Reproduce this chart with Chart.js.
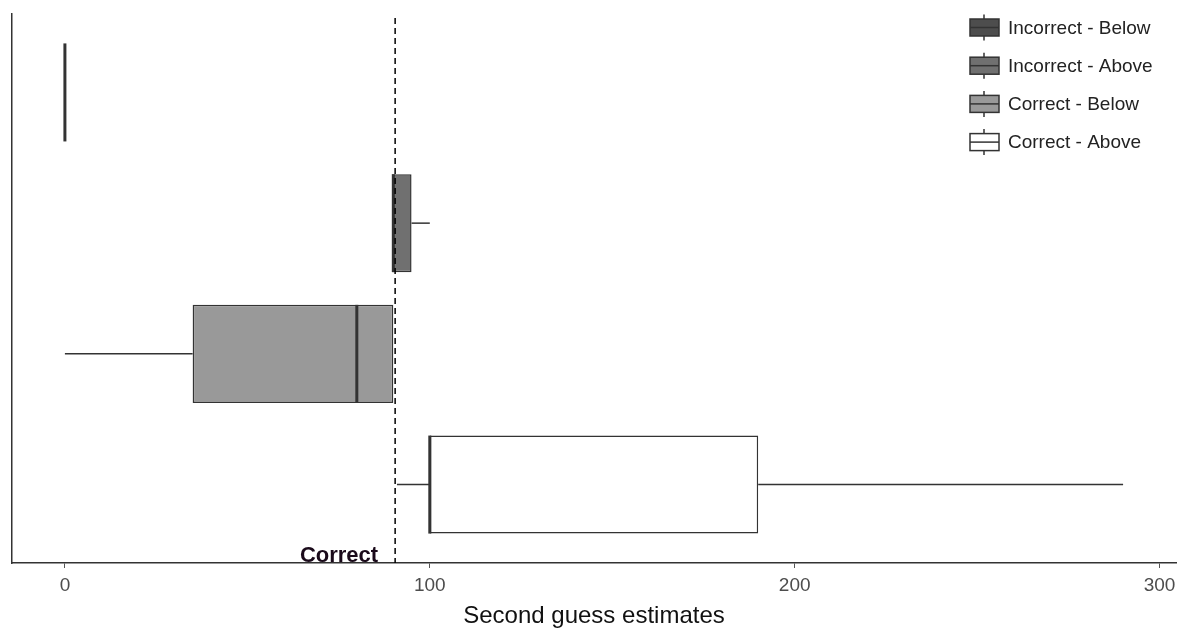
<!DOCTYPE html>
<html>
<head>
<meta charset="utf-8">
<script src="https://cdn.jsdelivr.net/npm/chart.js@4"></script>
<style>
  body { margin: 0; background: #fff; }
</style>
</head>
<body>
<canvas id="boxChart" width="1179" height="628"></canvas>
<script>
// one row per group, top to bottom
var groups = ['Incorrect - Below', 'Incorrect - Above', 'Correct - Below', 'Correct - Above'];
var whiskerLow = [0, 90, 0, 91];
var boxLow = [0, 90, 35, 100];
var medians = [0, 90, 80, 100];
var boxHigh = [0, 95, 90, 190];
var whiskerHigh = [0, 100, 90, 290];
var correctValue = 90.5;
var xTicks = [0, 100, 200, 300];
var fills = ['#4d4d4d', '#707070', '#999999', '#ffffff'];

Chart.defaults.font.family = '"Liberation Sans", Arial, sans-serif';

var boxParts = {
    id: 'boxParts',
    beforeDatasetsDraw: function(chart) {
        var ctx = chart.ctx, xs = chart.scales.x, ys = chart.scales.y;
        ctx.save();
        ctx.strokeStyle = '#333';
        ctx.lineWidth = 1.5;
        for (var i = 0; i < groups.length; i++) {
            var py = ys.getPixelForValue(i + 1);
            ctx.beginPath();
            ctx.moveTo(xs.getPixelForValue(whiskerLow[i]), py);
            ctx.lineTo(xs.getPixelForValue(boxLow[i]), py);
            ctx.moveTo(xs.getPixelForValue(boxHigh[i]), py);
            ctx.lineTo(xs.getPixelForValue(whiskerHigh[i]), py);
            ctx.stroke();
        }
        ctx.restore();
    },
    afterDatasetsDraw: function(chart) {
        var ctx = chart.ctx, xs = chart.scales.x, ys = chart.scales.y;
        var bars = chart.getDatasetMeta(0).data;
        ctx.save();
        // medians
        ctx.strokeStyle = '#333';
        ctx.lineWidth = 3;
        for (var i = 0; i < groups.length; i++) {
            var py = ys.getPixelForValue(i + 1);
            var half = bars[i].height / 2;
            var px = xs.getPixelForValue(medians[i]);
            ctx.beginPath();
            ctx.moveTo(px, py - half);
            ctx.lineTo(px, py + half);
            ctx.stroke();
        }
        // dashed reference line at the correct value
        var cx = xs.getPixelForValue(correctValue);
        ctx.strokeStyle = '#000';
        ctx.lineWidth = 1.5;
        ctx.setLineDash([6, 4]);
        ctx.beginPath();
        ctx.moveTo(cx, chart.chartArea.top + 4);
        ctx.lineTo(cx, chart.chartArea.bottom);
        ctx.stroke();
        ctx.setLineDash([]);
        ctx.fillStyle = '#1a0a1a';
        ctx.font = 'bold 22px "Liberation Sans", Arial, sans-serif';
        ctx.textAlign = 'right';
        ctx.textBaseline = 'alphabetic';
        ctx.fillText('Correct', cx - 17, chart.chartArea.bottom - 1);
        ctx.restore();
    },
    afterDraw: function(chart) {
        // legend with box glyphs
        var ctx = chart.ctx;
        ctx.save();
        for (var i = 0; i < groups.length; i++) {
            var cy = 27.5 + i * 38.2;
            ctx.strokeStyle = '#333';
            ctx.lineWidth = 1.5;
            ctx.beginPath();
            ctx.moveTo(984, cy - 13);
            ctx.lineTo(984, cy + 13);
            ctx.stroke();
            ctx.fillStyle = fills[i];
            ctx.fillRect(970, cy - 8.5, 29, 17);
            ctx.strokeRect(970, cy - 8.5, 29, 17);
            ctx.beginPath();
            ctx.moveTo(970, cy);
            ctx.lineTo(999, cy);
            ctx.stroke();
            ctx.fillStyle = '#222';
            ctx.font = '19px "Liberation Sans", Arial, sans-serif';
            ctx.textAlign = 'left';
            ctx.textBaseline = 'middle';
            ctx.fillText(groups[i], 1008, cy + 1);
        }
        ctx.restore();
    }
};

var ctx = document.getElementById('boxChart').getContext('2d');
var boxChart = new Chart(ctx, {
    type: 'bar',
    data: {
        datasets: [{
            data: groups.map(function(g, i) { return { x: [boxLow[i], boxHigh[i]], y: i + 1 }; }),
            backgroundColor: fills,
            borderColor: '#333',
            borderWidth: 1.5,
            borderSkipped: false,
            categoryPercentage: 1,
            barPercentage: 0.75
        }]
    },
    options: {
        indexAxis: 'y',
        responsive: false,
        animation: false,
        layout: { padding: { top: 14, right: 3, left: 0, bottom: 0 } },
        plugins: {
            legend: { display: false },
            tooltip: { enabled: false }
        },
        scales: {
            x: {
                type: 'linear',
                min: -14.5,
                max: 304.5,
                afterBuildTicks: function(scale) {
                    scale.ticks = xTicks.map(function(v) { return { value: v }; });
                },
                afterFit: function(scale) {
                    scale.height = 65;
                    scale.paddingLeft = 0;
                    scale.paddingRight = 0;
                },
                grid: { display: true, drawOnChartArea: false, drawTicks: true, tickLength: 5, color: '#555', lineWidth: 1 },
                border: { display: true, color: '#333', width: 1.5 },
                ticks: { color: '#4d4d4d', font: { size: 19 }, padding: 6 },
                title: {
                    display: true,
                    text: 'Second guess estimates',
                    color: '#111',
                    font: { size: 24, lineHeight: 1 },
                    padding: { top: 0, bottom: 0 }
                }
            },
            y: {
                type: 'linear',
                min: 0.4,
                max: 4.6,
                reverse: true,
                offset: false,
                afterBuildTicks: function(scale) {
                    scale.ticks = groups.map(function(g, i) { return { value: i + 1 }; });
                },
                afterFit: function(scale) { scale.width = 12; },
                grid: { display: true, drawOnChartArea: false, drawTicks: false },
                border: { display: true, color: '#333', width: 1.5 },
                ticks: { display: false }
            }
        }
    },
    plugins: [boxParts]
});
</script>
</body>
</html>
